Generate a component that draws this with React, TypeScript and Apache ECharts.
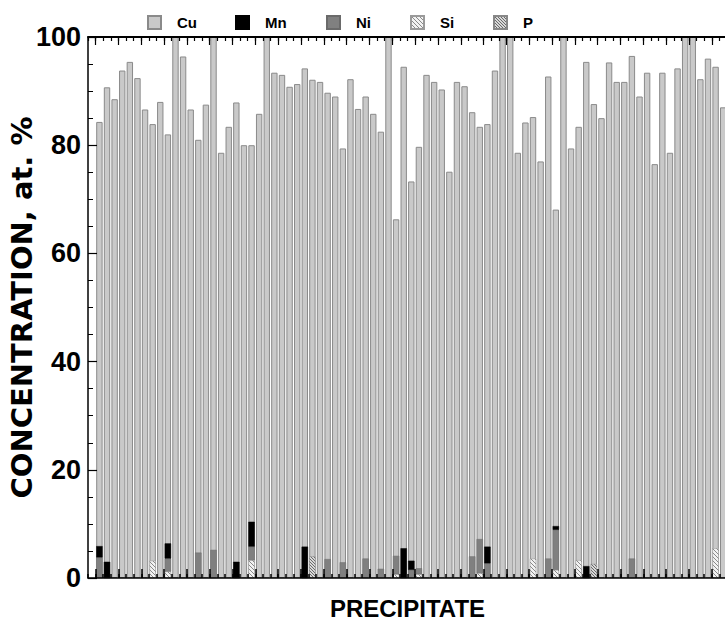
import React, { useEffect, useRef } from 'react';
import * as echarts from 'echarts';

// Precipitate index (1..83)
const PRECIPITATES: string[] = Array.from({ length: 83 }, (_, i) => String(i + 1));

const CU: number[] = [
  84.3, 90.7, 88.5, 93.8, 95.4, 92.4, 86.6, 83.9, 88.0, 82.0,
  100, 96.4, 86.6, 81.0, 87.5, 100, 78.6, 83.4, 87.9, 80.0,
  80.0, 85.8, 100, 93.4, 93.0, 90.8, 91.3, 94.2, 92.1, 91.7,
  89.7, 89.0, 79.4, 92.2, 86.7, 89.0, 85.8, 82.5, 100, 66.3,
  94.5, 73.3, 79.7, 93.0, 91.7, 90.3, 75.1, 91.7, 90.9, 86.1,
  83.4, 83.9, 93.8, 100, 100, 78.6, 84.2, 85.2, 77.0, 92.7,
  68.1, 100, 79.4, 83.4, 95.4, 87.6, 85.0, 95.3, 91.7, 91.7,
  96.5, 89.0, 93.4, 76.5, 93.4, 78.6, 94.2, 100, 100, 92.2,
  96.0, 94.5, 87.0,
];

const MN: number[] = [
  2.1, 3.0, 0, 0, 0, 0, 0, 0, 0, 2.8,
  0, 0, 0, 0, 0, 0, 0, 0, 3.0, 0,
  4.6, 0, 0, 0, 0, 0, 0, 5.8, 0, 0,
  0, 0, 0, 0, 0, 0, 0, 0, 0, 0,
  5.5, 1.7, 0, 0, 0, 0, 0, 0, 0, 0,
  0, 3.1, 0, 0, 0, 0, 0, 0, 0, 0,
  0.7, 0, 0, 0, 2.2, 0, 0, 0, 0, 0,
  0, 0, 0, 0, 0, 0, 0, 0, 0, 0,
  0, 0, 0,
];

const NI: number[] = [
  3.8, 0, 0, 0, 0, 0, 0, 0, 0, 2.4,
  0, 0, 0, 4.7, 0, 5.2, 0, 0, 0, 0,
  2.5, 0, 0, 0, 0, 0, 0, 0, 0, 0,
  3.5, 0, 2.9, 0, 0, 3.6, 0, 1.7, 0, 3.4,
  0, 1.5, 1.1, 0, 0, 0, 0, 0, 0, 4.0,
  6.3, 2.7, 0, 0, 0, 0, 0, 0, 0, 3.6,
  7.4, 0, 0, 0, 0, 0, 0, 0, 0, 0,
  3.6, 0, 0, 0, 0, 0, 0, 0, 0, 0,
  0, 0, 0,
];

const SI: number[] = [
  0, 0, 0, 0, 0, 0, 0, 3.2, 0, 1.2,
  0, 0, 0, 0, 0, 0, 0, 0, 0, 0,
  3.3, 0, 0, 0, 0, 0, 0, 0, 0, 0,
  0, 0, 0, 0, 0, 0, 0, 0, 0, 0.7,
  0, 0, 0.7, 0, 0, 0, 0, 0, 0, 0,
  0.9, 0, 0, 0, 0, 0, 0, 3.6, 0, 0,
  1.5, 0, 0, 3.3, 0, 0, 0, 0, 0, 0,
  0, 0, 0, 0, 0, 0, 0, 0, 0, 0,
  0, 5.5, 0,
];

const P: number[] = [
  0, 0, 0, 0, 0, 0, 0, 0, 0, 0,
  0, 0, 0, 0, 0, 0, 0, 0, 0, 0,
  0, 0, 0, 0, 0, 0, 0, 0, 4.0, 0,
  0, 0, 0, 0, 0, 0, 0, 0, 0, 0,
  0, 0, 0, 0, 0, 0, 0, 0, 0, 0,
  0, 0, 0, 0, 0, 0, 0, 0, 0, 0,
  0, 0, 0, 0, 0, 2.6, 0, 0, 0, 0,
  0, 0, 0, 0, 0, 0, 0, 0, 0, 0,
  0, 0, 0,
];

const Y_MIN = 0;
const Y_MAX = 100;
const Y_STEP = 20;

const FONT = 'Liberation Sans, Arial, Helvetica, sans-serif';
const TITLE_FONT = 'DejaVu Sans, Liberation Sans, Arial, sans-serif';

function makeHatch(bg: string, line: string, size: number) {
  const c = document.createElement('canvas');
  c.width = size;
  c.height = size;
  const ctx = c.getContext('2d')!;
  ctx.fillStyle = bg;
  ctx.fillRect(0, 0, size, size);
  ctx.strokeStyle = line;
  ctx.lineWidth = 1;
  ctx.beginPath();
  ctx.moveTo(0, 0);
  ctx.lineTo(size, size);
  ctx.moveTo(-1, size - 1);
  ctx.lineTo(1, size + 1);
  ctx.moveTo(size - 1, -1);
  ctx.lineTo(size + 1, 1);
  ctx.stroke();
  return c;
}

export default function App() {
  const ref = useRef<HTMLDivElement>(null);

  useEffect(() => {
    if (!ref.current) return;
    const chart = echarts.init(ref.current, null, { renderer: 'svg' });

    const categories = ['', ...PRECIPITATES];
    const pad = (arr: number[]) => [null, ...arr.map((v) => (v ? v : null))];

    const siPattern = { image: makeHatch('#f2f2f2', '#8a8a8a', 4), repeat: 'repeat' };
    const pPattern = { image: makeHatch('#d8d8d8', '#6a6a6a', 3), repeat: 'repeat' };

    const baseX = {
      type: 'category',
      data: categories,
      boundaryGap: true,
      axisLabel: { show: false },
      splitLine: { show: false },
      z: 10,
    };

    const legendCommon = {
      top: 10,
      itemWidth: 13,
      itemHeight: 13,
      icon: 'rect',
      textStyle: {
        fontFamily: FONT,
        fontWeight: 'bold',
        fontSize: 15,
        color: '#000',
        padding: [0, 0, 0, 11],
      },
    };

    const option: any = {
      animation: false,
      backgroundColor: '#fff',
      legend: [
        { ...legendCommon, left: 142, data: ['Cu'] },
        { ...legendCommon, left: 230, data: ['Mn'] },
        { ...legendCommon, left: 321, data: ['Ni'] },
        { ...legendCommon, left: 405, data: ['Si'] },
        { ...legendCommon, left: 488, data: ['P'] },
      ],
      grid: {
        left: 88,
        top: 37,
        bottom: 43,
        right: -2,
        containLabel: false,
        outerBoundsMode: 'none',
      },
      xAxis: [
        {
          ...baseX,
          position: 'bottom',
          axisLine: { show: true, lineStyle: { color: '#000', width: 1.5 } },
          axisTick: { show: true, inside: true, length: 4, interval: 0, lineStyle: { color: '#000', width: 1.5 } },
          name: 'PRECIPITATE',
          nameLocation: 'middle',
          nameGap: 18,
          nameMoveOverlap: false,
          nameTextStyle: { fontFamily: FONT, fontWeight: 'bold', fontSize: 24, color: '#000' },
        },
        {
          ...baseX,
          position: 'bottom',
          axisLine: { show: false },
          axisTick: {
            show: true,
            inside: true,
            length: 9,
            interval: (i: number) => i % 3 === 1,
            lineStyle: { color: '#000', width: 1.5 },
          },
        },
        {
          ...baseX,
          position: 'top',
          axisLine: { show: true, lineStyle: { color: '#000', width: 1.8 } },
          axisTick: { show: true, inside: true, length: 4, interval: 0, lineStyle: { color: '#000', width: 1.2 } },
        },
        {
          ...baseX,
          position: 'top',
          axisLine: { show: false },
          axisTick: {
            show: true,
            inside: true,
            length: 8,
            interval: (i: number) => i % 3 === 1,
            lineStyle: { color: '#000', width: 1.2 },
          },
        },
      ],
      yAxis: {
        type: 'value',
        min: Y_MIN,
        max: Y_MAX,
        interval: Y_STEP,
        z: 10,
        axisLine: { show: true, lineStyle: { color: '#000', width: 1.5 } },
        axisTick: { show: true, inside: true, length: 9, lineStyle: { color: '#000', width: 1.2 } },
        minorTick: { show: true, splitNumber: 4, length: 5, lineStyle: { color: '#000', width: 1 } },
        splitLine: { show: false },
        axisLabel: {
          fontFamily: FONT,
          fontWeight: 'bold',
          fontSize: 27,
          color: '#000',
          margin: 7,
        },
        name: 'CONCENTRATION, at. %',
        nameLocation: 'middle',
        nameGap: 66,
        nameMoveOverlap: false,
        nameTextStyle: {
          fontFamily: TITLE_FONT,
          fontWeight: 'bold',
          fontSize: 29,
          color: '#000',
          verticalAlign: 'middle',
        },
      },
      series: [
        {
          name: 'Cu',
          type: 'bar',
          xAxisIndex: 0,
          data: [null, ...CU],
          barCategoryGap: '16%',
          barGap: '-100%',
          itemStyle: { color: '#c9c9c9', borderColor: '#8a8a8a', borderWidth: 1 },
        },
        {
          name: 'Si',
          type: 'bar',
          stack: 'minor',
          xAxisIndex: 0,
          data: pad(SI),
          barGap: '-100%',
          itemStyle: { color: siPattern, borderColor: '#9a9a9a', borderWidth: 0.5 },
        },
        {
          name: 'P',
          type: 'bar',
          stack: 'minor',
          xAxisIndex: 0,
          data: pad(P),
          barGap: '-100%',
          itemStyle: { color: pPattern, borderColor: '#888', borderWidth: 0.5 },
        },
        {
          name: 'Ni',
          type: 'bar',
          stack: 'minor',
          xAxisIndex: 0,
          data: pad(NI),
          barGap: '-100%',
          itemStyle: { color: '#808080', borderColor: '#6a6a6a', borderWidth: 0.5 },
        },
        {
          name: 'Mn',
          type: 'bar',
          stack: 'minor',
          xAxisIndex: 0,
          data: pad(MN),
          barGap: '-100%',
          itemStyle: { color: '#000', borderColor: '#000', borderWidth: 0.5 },
        },
      ],
    };

    chart.setOption(option);
    return () => chart.dispose();
  }, []);

  return (
    <div
      ref={ref}
      style={{ position: 'absolute', left: 0, top: 0, width: 725, height: 621, background: '#fff' }}
    />
  );
}
